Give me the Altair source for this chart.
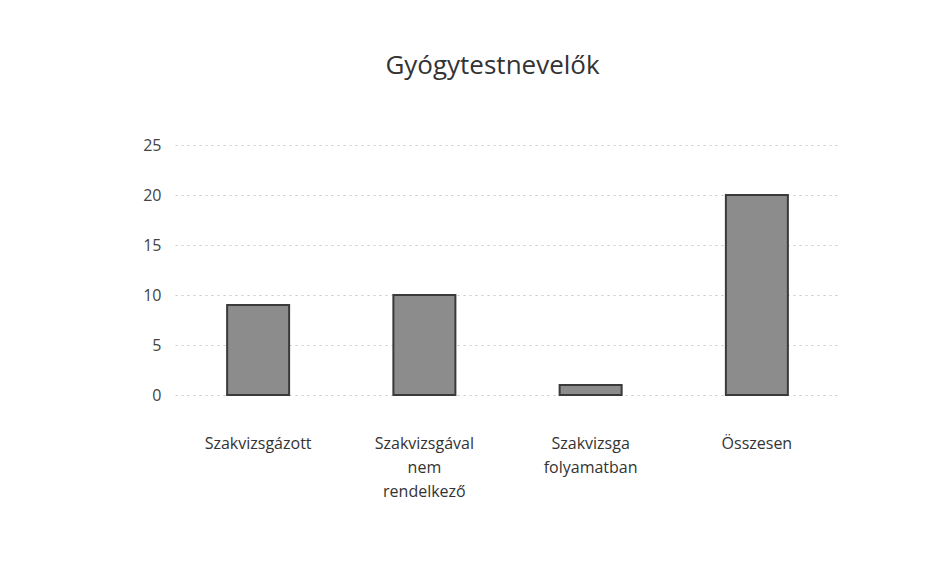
import altair as alt
import pandas as pd

categories = ["Szakvizsgázott", "Szakvizsgával nem rendelkező", "Szakvizsga folyamatban", "Összesen"]
label_lines = ["Szakvizsgázott", "Szakvizsgával|nem|rendelkező", "Szakvizsga|folyamatban", "Összesen"]
values = [9, 10, 1, 20]

df = pd.DataFrame({"cat": categories, "label": label_lines, "value": values})

label_expr = (
    "split({" + ", ".join(f"'{c}': '{l}'" for c, l in zip(categories, label_lines)) + "}[datum.value], '|')"
)

chart = (
    alt.Chart(df)
    .mark_bar(size=62, color="#8c8c8c", stroke="#3a3a3a", strokeWidth=2)
    .encode(
        x=alt.X(
            "cat:N",
            sort=categories,
            title=None,
            axis=alt.Axis(
                labelAngle=0,
                labelExpr=label_expr,
                labelFont="Open Sans",
                labelFontSize=16,
                labelColor="#333333",
                labelPadding=40,
                labelLineHeight=24,
                labelBaseline="top",
                domain=False,
                ticks=False,
                grid=False,
            ),
        ),
        y=alt.Y(
            "value:Q",
            title=None,
            scale=alt.Scale(domain=[0, 25]),
            axis=alt.Axis(
                values=[0, 5, 10, 15, 20, 25],
                labelFont="Open Sans",
                labelFontSize=16,
                labelColor="#444444",
                labelPadding=14,
                labelBaseline="middle",
                domain=False,
                ticks=False,
                grid=True,
                gridColor="#c8c8c8",
                gridDash=[2, 4],
                gridWidth=1,
            ),
        ),
    )
    .properties(
        width=665,
        height=250,
        background="white",
        title=alt.TitleParams(
            "Gyógytestnevelők",
            font="Open Sans",
            fontSize=26,
            fontWeight="normal",
            color="#333333",
            offset=58,
            dx=-15,
        ),
        autosize=alt.AutoSizeParams(type="none"),
        padding={"left": 167, "top": 137, "right": 100, "bottom": 180},
    )
    .configure_view(strokeOpacity=0, strokeWidth=0)
)

chart.save("out.html", embed_options={"renderer": "svg", "actions": False})
